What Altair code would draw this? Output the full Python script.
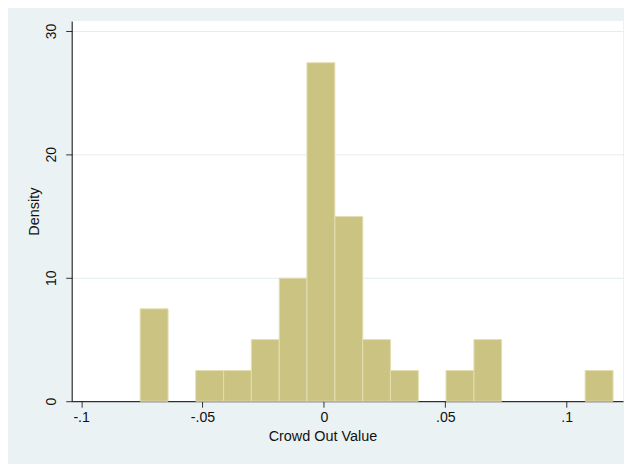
import altair as alt
import pandas as pd

# Histogram bins (lower / upper edges) and densities
bin_lo = [-0.0757, -0.0642, -0.0528, -0.0413, -0.0299, -0.0184, -0.0070,
          0.0045, 0.0160, 0.0274, 0.0389, 0.0503, 0.0618, 0.0732, 0.0847,
          0.0961, 0.1076]
bin_hi = [-0.0642, -0.0528, -0.0413, -0.0299, -0.0184, -0.0070, 0.0045,
          0.0160, 0.0274, 0.0389, 0.0503, 0.0618, 0.0732, 0.0847, 0.0961,
          0.1076, 0.1191]
density = [7.48, 0, 2.49, 2.49, 4.99, 9.97, 27.42, 14.96, 4.99, 2.49, 0,
           2.49, 4.99, 0, 0, 0, 2.49]

x_ticks = [-0.1, -0.05, 0, 0.05, 0.1]
y_ticks = [0, 10, 20, 30]

df = pd.DataFrame({"lo": bin_lo, "hi": bin_hi, "density": density})
df = df[df["density"] > 0]

FONT = "Liberation Sans"

label_expr = (
    "datum.value == 0 ? '0' : (datum.value < 0 ? '-' : '') + "
    "replace(format(abs(datum.value), '~g'), '0.', '.')"
)

bars = alt.Chart(df).mark_bar(
    fill="#CBC381", stroke="#E3DEB2", strokeWidth=1
).encode(
    x=alt.X(
        "lo:Q",
        scale=alt.Scale(domain=[-0.1039, 0.1232], nice=False, zero=False),
        axis=alt.Axis(
            values=x_ticks,
            labelExpr=label_expr,
            title="Crowd Out Value",
            grid=False,
            tickSize=6,
            labelPadding=3,
            labelFontSize=14.2,
            titleFontSize=14.5,
            titleFontWeight="normal",
            titleX=252,
            titleY=40,
            titleAnchor="middle",
            titleBaseline="alphabetic",
            labelFlush=False,
            labelOverlap=False,
        ),
    ),
    x2="hi:Q",
    y=alt.Y(
        "density:Q",
        scale=alt.Scale(domain=[0, 30.8], nice=False),
        axis=alt.Axis(
            values=y_ticks,
            title="Density",
            grid=True,
            gridColor="#E4EDEF",
            gridWidth=1,
            tickSize=6,
            labelAngle=-90,
            labelAlign="center",
            labelBaseline="alphabetic",
            labelPadding=10,
            labelFontSize=14,
            titleFontSize=14.5,
            titleFontWeight="normal",
            titleX=-33,
            titleBaseline="alphabetic",
            labelFlush=False,
            labelOverlap=False,
        ),
    ),
    y2=alt.datum(0),
).properties(
    width=554,
    height=382,
    background="#EAF2F3",
    padding={"left": 64, "top": 12, "right": 1, "bottom": 62},
    autosize=alt.AutoSizeParams(type="none"),
)

chart = bars.configure_view(stroke=None, fill="white").configure_axis(
    labelFont=FONT,
    titleFont=FONT,
    labelColor="#111",
    titleColor="#111",
    domainColor="#000",
    domainWidth=1,
    tickColor="#333",
    tickWidth=1,
)

chart.save("out.html", embed_options={"renderer": "svg", "actions": False})
